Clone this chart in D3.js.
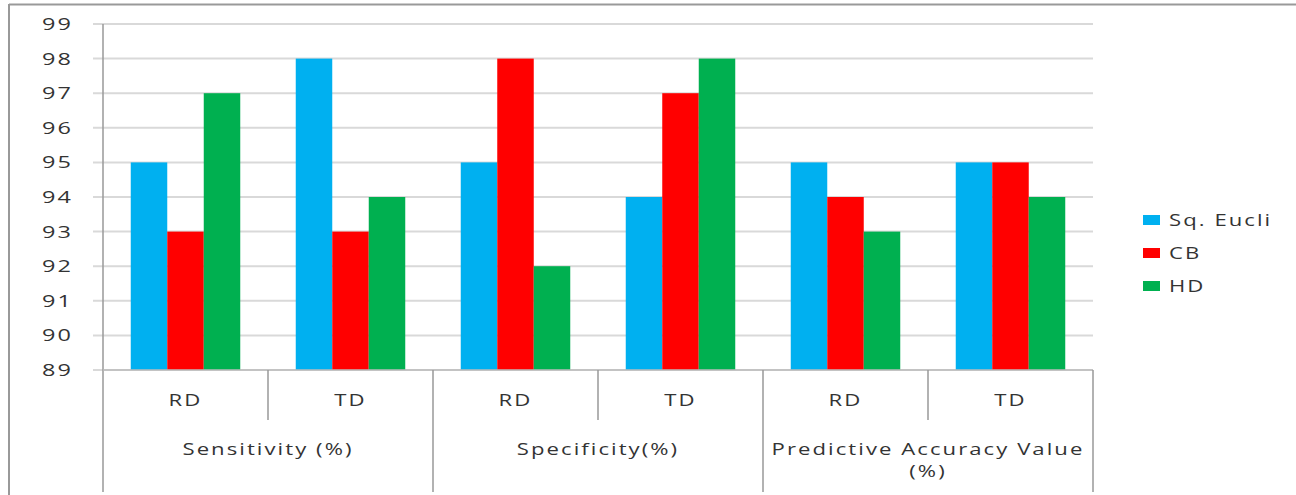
<!DOCTYPE html>
<html><head><meta charset="utf-8">
<script src="https://cdn.jsdelivr.net/npm/d3@7"></script>
<style>
body{margin:0;background:#fff;}
text{font-family:"Open Sans","DejaVu Sans",sans-serif;fill:#333;}
</style></head>
<body><svg id="c" width="1296" height="495"></svg>
<script>
const groups = ["Sensitivity (%)", "Specificity(%)", "Predictive Accuracy Value (%)"];
const subcats = ["RD", "TD"];
const seriesNames = ["Sq. Eucli", "CB", "HD"];
const colors = ["#00B0F0", "#FF0000", "#00B050"];
const sqEucli = [95, 98, 95, 94, 95, 95];
const cb = [93, 93, 98, 97, 94, 95];
const hd = [97, 94, 92, 98, 93, 94];
const yTicks = [89, 90, 91, 92, 93, 94, 95, 96, 97, 98, 99];

(function(){
const svg = d3.select("#c");
const W = 1296, H = 495;
const pL = 103, pR = 1093, pT = 24, pB = 370;
const SX = 1.38;

function label(parent, x, yy, str, anchor, size){
  return parent.append("text")
    .attr("transform", `translate(${x},${yy}) scale(${SX},1)`)
    .attr("dy","0.35em").attr("text-anchor",anchor)
    .attr("font-size",size).attr("letter-spacing",1.5).text(str);
}

svg.append("line").attr("x1",9).attr("x2",W).attr("y1",4.5).attr("y2",4.5).attr("stroke","#999").attr("stroke-width",2);
svg.append("line").attr("x1",9).attr("x2",9).attr("y1",4).attr("y2",H).attr("stroke","#999").attr("stroke-width",2);

const cats = [];
groups.forEach((g,gi)=>subcats.forEach(s=>cats.push({g,gi,s})));
const x0 = d3.scaleBand().domain(d3.range(cats.length)).range([pL,pR]);
const y = d3.scaleLinear().domain([89,99]).range([pB,pT]);
const series = [sqEucli, cb, hd];
const barW = 36.5;
const x1 = d3.scaleBand().domain(d3.range(3)).range([-barW*1.5, barW*1.5]);

svg.append("g").selectAll("line").data(yTicks).join("line")
  .attr("x1",93).attr("x2",pR).attr("y1",d=>y(d)).attr("y2",d=>y(d))
  .attr("stroke","#d9d9d9").attr("stroke-width",2);
const yg = svg.append("g");
yTicks.forEach(t=>label(yg, 73, y(t), t, "end", 17));

series.forEach((vals,si)=>{
  svg.append("g").selectAll("rect").data(vals).join("rect")
    .attr("x",(d,i)=>x0(i)+x0.bandwidth()/2+x1(si))
    .attr("width",x1.bandwidth())
    .attr("y",d=>y(d)).attr("height",d=>y(89)-y(d))
    .attr("fill",colors[si]);
});

svg.append("line").attr("x1",pL).attr("x2",pL).attr("y1",pT).attr("y2",492).attr("stroke","#999").attr("stroke-width",1.5);
svg.append("line").attr("x1",pL).attr("x2",pR).attr("y1",pB).attr("y2",pB).attr("stroke","#bbb").attr("stroke-width",1.5);
for(let i=1;i<=cats.length;i++){
  const xx = pL + i*x0.bandwidth();
  const outer = (i%2===0);
  svg.append("line").attr("x1",xx).attr("x2",xx).attr("y1",pB).attr("y2",outer?492:420)
    .attr("stroke","#999").attr("stroke-width",1.5);
}
const xg = svg.append("g");
cats.forEach((d,i)=>label(xg, x0(i)+x0.bandwidth()/2, 400, d.s, "middle", 16));
groups.forEach((g,gi)=>{
  const cx = pL + (gi*2+1)*x0.bandwidth();
  if(g==="Predictive Accuracy Value (%)"){
    label(xg, cx, 449, "Predictive Accuracy Value", "middle", 16);
    label(xg, cx, 471, "(%)", "middle", 16);
  } else {
    label(xg, cx, 449, g, "middle", 16);
  }
});

const lg = svg.append("g");
seriesNames.forEach((n,i)=>{
  const yy = 220 + i*33;
  lg.append("rect").attr("x",1143).attr("y",yy-5).attr("width",17).attr("height",10).attr("fill",colors[i]);
  label(lg, 1169, yy, n, "start", 16);
});
})();
</script></body></html>
